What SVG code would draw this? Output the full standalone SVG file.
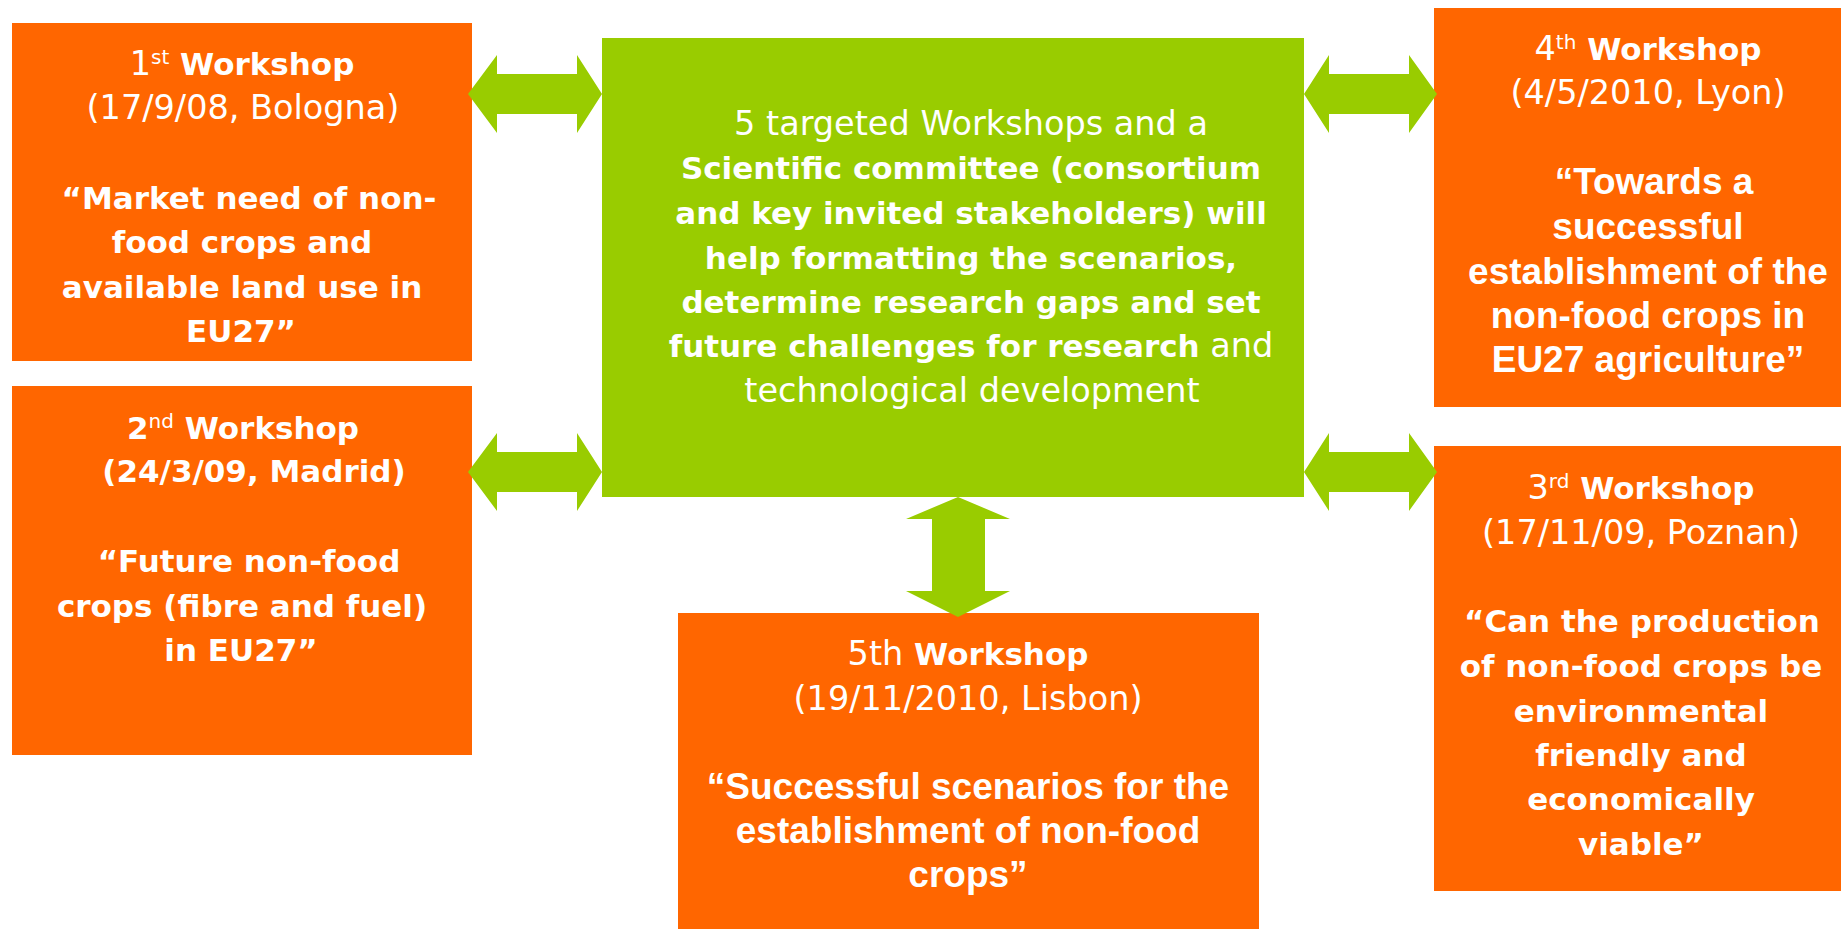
<svg xmlns="http://www.w3.org/2000/svg" width="1841" height="929" viewBox="0 0 1841 929">
<style>
.box{fill:#FF6600}
.core{fill:#99CC00}
.arrow{fill:#99CC00}
text{fill:#FFFFFF;text-anchor:middle}
.v{font-family:"DejaVu Sans",Verdana,sans-serif}
.a{font-family:"Liberation Sans",Arial,sans-serif;font-weight:bold;font-size:37px}
.r{font-weight:normal;font-size:33.5px}
.b{font-weight:bold;font-size:31px}
.sup{font-size:20px;font-weight:normal}
</style>
<rect width="1841" height="929" fill="#FFFFFF"/>

<g id="workshop1">
<rect class="box" x="12" y="23" width="460" height="338"/>
<text class="v" x="242" y="75"><tspan class="r">1</tspan><tspan class="sup" dy="-11">st</tspan><tspan class="b" dy="11"> Workshop</tspan></text>
<text class="v r" x="243" y="119">(17/9/08, Bologna)</text>
<text class="v b" x="249" y="208.5">“Market need of non-</text>
<text class="v b" x="242" y="253">food crops and</text>
<text class="v b" x="242" y="297.5">available land use in</text>
<text class="v b" x="241" y="342">EU27”</text>
</g>

<g id="workshop2">
<rect class="box" x="12" y="386" width="460" height="369"/>
<text class="v b" x="243" y="438.5"><tspan>2</tspan><tspan class="sup" font-weight="bold" dy="-11">nd</tspan><tspan dy="11"> Workshop</tspan></text>
<text class="v b" x="254" y="482">(24/3/09, Madrid)</text>
<text class="v b" x="249" y="571.5">“Future non-food</text>
<text class="v b" x="242" y="616.5">crops (fibre and fuel)</text>
<text class="v b" x="241" y="660.5">in EU27”</text>
</g>

<g id="core">
<rect class="core" x="602" y="38" width="702" height="459"/>
<text class="v r" x="971" y="135">5 targeted Workshops and a</text>
<text class="v b" x="971" y="179">Scientific committee (consortium</text>
<text class="v b" x="971" y="223.5">and key invited stakeholders) will</text>
<text class="v b" x="971" y="268.5">help formatting the scenarios,</text>
<text class="v b" x="971" y="313">determine research gaps and set</text>
<text class="v" x="971" y="357"><tspan class="b">future challenges for research</tspan><tspan class="r"> and</tspan></text>
<text class="v r" x="972" y="402">technological development</text>
</g>

<g id="workshop4">
<rect class="box" x="1434" y="8" width="407" height="399"/>
<text class="v" x="1648" y="60"><tspan class="r">4</tspan><tspan class="sup" dy="-11">th</tspan><tspan class="b" dy="11"> Workshop</tspan></text>
<text class="v r" x="1648" y="103.5">(4/5/2010, Lyon)</text>
<text class="a" x="1654" y="193.5">“Towards a</text>
<text class="a" x="1648" y="238.5">successful</text>
<text class="a" x="1648" y="283.5">establishment of the</text>
<text class="a" x="1648" y="328">non-food crops in</text>
<text class="a" x="1648" y="372">EU27 agriculture”</text>
</g>

<g id="workshop3">
<rect class="box" x="1434" y="446" width="407" height="445"/>
<text class="v" x="1641" y="498.5"><tspan class="r">3</tspan><tspan class="sup" dy="-11">rd</tspan><tspan class="b" dy="11"> Workshop</tspan></text>
<text class="v r" x="1641" y="543.5">(17/11/09, Poznan)</text>
<text class="v b" x="1642" y="631.5">“Can the production</text>
<text class="v b" x="1641" y="676.5">of non-food crops be</text>
<text class="v b" x="1641" y="721.5">environmental</text>
<text class="v b" x="1641" y="765.5">friendly and</text>
<text class="v b" x="1641" y="810">economically</text>
<text class="v b" x="1641" y="855">viable”</text>
</g>

<g id="workshop5">
<rect class="box" x="678" y="613" width="581" height="316"/>
<text class="v" x="968" y="664.5"><tspan class="r">5th</tspan><tspan class="b"> Workshop</tspan></text>
<text class="v r" x="968" y="709.5">(19/11/2010, Lisbon)</text>
<text class="a" x="968" y="798.5">“Successful scenarios for the</text>
<text class="a" x="968" y="842.5">establishment of non-food</text>
<text class="a" x="968" y="887">crops”</text>
</g>

<g id="connectors">
<polygon class="arrow" points="468,94 497,55 497,74 577,74 577,55 602,94 577,133 577,114 497,114 497,133"/>
<polygon class="arrow" points="468,472 497,433 497,452 577,452 577,433 602,472 577,511 577,492 497,492 497,511"/>
<polygon class="arrow" points="1304,94 1329,55 1329,74 1409,74 1409,55 1437,94 1409,133 1409,114 1329,114 1329,133"/>
<polygon class="arrow" points="1304,472 1329,433 1329,452 1409,452 1409,433 1437,472 1409,511 1409,492 1329,492 1329,511"/>
<polygon class="arrow" points="958,497 1010,519 985,519 985,591 1010,591 958,617 906,591 932,591 932,519 906,519"/>
</g>
</svg>
